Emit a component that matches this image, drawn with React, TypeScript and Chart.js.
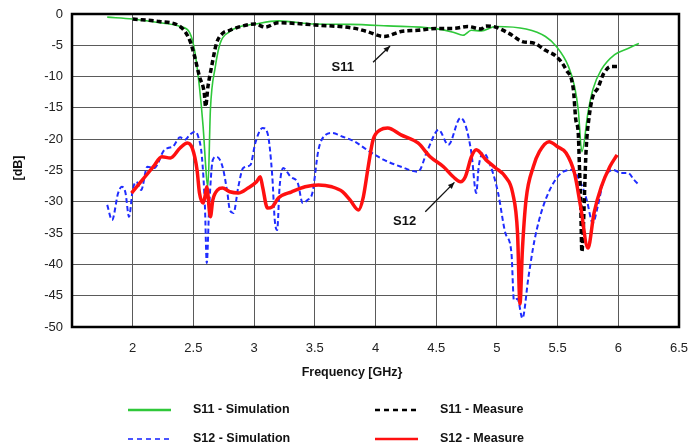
import React, { useEffect, useRef } from "react";
import { Chart, registerables } from "chart.js";

Chart.register(...registerables);

// Frequency axis ticks (GHz) and level axis ticks (dB)
const freqTicks = [1.5, 2, 2.5, 3, 3.5, 4, 4.5, 5, 5.5, 6, 6.5];
const dbTicks = [0, -5, -10, -15, -20, -25, -30, -35, -40, -45, -50];

// S11 - Simulation
const s11SimFreq = [1.79, 2.0, 2.22, 2.39, 2.47, 2.51, 2.55, 2.58, 2.61, 2.62, 2.64, 2.68, 2.72, 2.80, 2.84, 3.01, 3.20, 3.50, 3.79, 4.10, 4.48, 4.64, 4.72, 4.79, 4.87, 4.99, 5.24, 5.40, 5.49, 5.59, 5.64, 5.67, 5.70, 5.75, 5.79, 5.86, 5.97, 6.08, 6.17];
const s11SimDb = [-0.5, -0.8, -1.4, -2.0, -3.0, -5.8, -11.7, -18, -26.5, -27.5, -15.3, -8.5, -4.7, -2.8, -2.3, -1.6, -1.1, -1.6, -1.65, -1.9, -2.3, -2.9, -3.4, -2.6, -2.7, -2.0, -2.4, -3.6, -5.2, -8.4, -11.6, -15.3, -22, -15.8, -12.1, -8.9, -6.5, -5.5, -4.7];

// S11 - Measure
const s11MeasFreq = [2.0, 2.22, 2.39, 2.47, 2.51, 2.55, 2.59, 2.60, 2.62, 2.65, 2.69, 2.74, 2.80, 2.87, 3.01, 3.09, 3.20, 3.50, 3.83, 3.93, 4.07, 4.21, 4.35, 4.51, 4.64, 4.76, 4.87, 4.91, 4.99, 5.10, 5.21, 5.31, 5.40, 5.49, 5.57, 5.63, 5.65, 5.67, 5.68, 5.69, 5.70, 5.71, 5.735, 5.76, 5.79, 5.83, 5.88, 5.94, 5.99];
const s11MeasDb = [-0.8, -1.2, -2.0, -4.2, -6.8, -10, -12.7, -14.8, -11.6, -8.4, -4.7, -3.1, -2.6, -2.1, -1.6, -2.1, -1.4, -1.75, -2.3, -2.8, -3.6, -2.8, -2.6, -2.3, -2.3, -2.0, -2.4, -1.9, -2.1, -3.1, -4.4, -4.7, -5.8, -6.8, -8.9, -12.1, -16.9, -19, -24.4, -30, -38, -35, -21.7, -16.4, -13.2, -11.9, -9.5, -8.4, -8.4];

// S12 - Simulation
const s12SimFreq = [1.79, 1.83, 1.88, 1.91, 1.94, 1.97, 2.0, 2.03, 2.07, 2.12, 2.18, 2.21, 2.25, 2.29, 2.33, 2.39, 2.43, 2.47, 2.51, 2.54, 2.57, 2.595, 2.61, 2.63, 2.66, 2.69, 2.74, 2.78, 2.80, 2.83, 2.87, 2.91, 2.97, 3.01, 3.07, 3.11, 3.15, 3.17, 3.19, 3.21, 3.24, 3.30, 3.36, 3.40, 3.44, 3.48, 3.53, 3.59, 3.64, 3.73, 3.83, 3.93, 4.07, 4.21, 4.35, 4.43, 4.52, 4.60, 4.70, 4.74, 4.79, 4.83, 4.85, 4.89, 4.95, 5.01, 5.07, 5.12, 5.14, 5.17, 5.21, 5.26, 5.31, 5.38, 5.50, 5.61, 5.68, 5.74, 5.79, 5.83, 5.88, 5.96, 6.02, 6.08, 6.13, 6.17];
const s12SimDb = [-30.5, -32.9, -28.6, -27.6, -28.5, -32.4, -28.1, -26.8, -28.1, -24.4, -24.6, -23.8, -22, -21.4, -21.2, -19.7, -20.1, -19.3, -18.8, -19.6, -22.8, -30.8, -39.8, -30.8, -23.3, -22.8, -24.4, -28.6, -31.3, -31.8, -27.6, -24.6, -24.1, -20.6, -18.2, -19, -26, -32.9, -34.5, -27.6, -24.6, -26, -27, -30.2, -29.7, -28.6, -21.7, -19.3, -19, -19.6, -20.4, -21.7, -23.3, -24.4, -25.2, -21.7, -18.5, -20.9, -16.6, -17.7, -22.2, -28.6, -24.4, -22.2, -24.4, -28.6, -35, -38.2, -45.7, -45.5, -48.6, -42, -36.1, -30.8, -26, -24.9, -26.5, -29.7, -33.4, -30.8, -26.5, -24.9, -25.4, -25.4, -26.5, -27.3];

// S12 - Measure
const s12MeasFreq = [1.99, 2.08, 2.17, 2.24, 2.31, 2.39, 2.45, 2.49, 2.53, 2.55, 2.58, 2.595, 2.61, 2.64, 2.66, 2.70, 2.74, 2.80, 2.87, 2.95, 3.02, 3.05, 3.07, 3.11, 3.15, 3.20, 3.31, 3.42, 3.53, 3.64, 3.73, 3.79, 3.86, 3.90, 3.94, 3.98, 4.04, 4.10, 4.21, 4.35, 4.45, 4.56, 4.64, 4.70, 4.74, 4.79, 4.83, 4.91, 4.99, 5.07, 5.13, 5.17, 5.19, 5.21, 5.24, 5.30, 5.35, 5.43, 5.50, 5.57, 5.64, 5.69, 5.75, 5.80, 5.86, 5.93, 5.99];
const s12MeasDb = [-28.6, -26.5, -24.4, -22.8, -23, -21.4, -20.6, -21.4, -24.9, -28.6, -30.2, -29.2, -27.6, -32.4, -29.7, -28.1, -27.8, -28.4, -28.6, -27.8, -26.8, -26, -27.6, -31, -30.8, -29.4, -28.4, -27.6, -27.3, -27.6, -28.4, -29.7, -31.3, -29.2, -24.4, -20.1, -18.5, -18.2, -19.3, -20.6, -22.8, -24.4, -26, -26.8, -26, -22.8, -21.7, -23.3, -24.6, -26, -28.6, -35, -46.3, -37.7, -29.7, -24.4, -22, -20.4, -21.2, -22.2, -25.5, -30.8, -37.4, -31.8, -27.6, -24.4, -22.5];

const seriesNames = ["S11 - Simulation", "S11 - Measure", "S12 - Simulation", "S12 - Measure"];

const GREEN = "#2fc83a";
const BLACK = "#000000";
const BLUE = "#1f2cff";
const RED = "#ff1010";
const FONT = "'Liberation Sans', Arial, sans-serif";

const pts = (xs: number[], ys: number[]) => xs.map((x, i) => ({ x, y: ys[i] }));

// Frame, axis titles, callouts and the two-column legend
const decorations = {
  id: "decorations",
  afterDraw(chart: any) {
    const { ctx, chartArea: a, scales } = chart;
    const xs = scales.x;
    const ys = scales.y;
    ctx.save();
    // heavy plot frame
    ctx.strokeStyle = "#000";
    ctx.lineWidth = 2.5;
    ctx.strokeRect(a.left, a.top, a.right - a.left, a.bottom - a.top);

    ctx.fillStyle = "#111";
    ctx.font = `bold 12.5px ${FONT}`;
    ctx.textAlign = "center";
    ctx.textBaseline = "middle";
    ctx.fillText("Frequency [GHz}", 352, 373);
    ctx.save();
    ctx.translate(19, 168);
    ctx.rotate(-Math.PI / 2);
    ctx.fillText("[dB]", 0, 0);
    ctx.restore();

    // callouts, anchored in data units
    const callout = (label: string, lx: number, ly: number, fx: number, fy: number, tx: number, ty: number) => {
      ctx.font = `bold 13px ${FONT}`;
      ctx.textAlign = "center";
      ctx.fillStyle = "#111";
      ctx.fillText(label, xs.getPixelForValue(lx), ys.getPixelForValue(ly));
      const x0 = xs.getPixelForValue(fx), y0 = ys.getPixelForValue(fy);
      const x1 = xs.getPixelForValue(tx), y1 = ys.getPixelForValue(ty);
      ctx.strokeStyle = "#111";
      ctx.lineWidth = 1.3;
      ctx.beginPath();
      ctx.moveTo(x0, y0);
      ctx.lineTo(x1, y1);
      ctx.stroke();
      const ang = Math.atan2(y1 - y0, x1 - x0);
      ctx.beginPath();
      ctx.moveTo(x1, y1);
      ctx.lineTo(x1 - 7 * Math.cos(ang - 0.4), y1 - 7 * Math.sin(ang - 0.4));
      ctx.lineTo(x1 - 7 * Math.cos(ang + 0.4), y1 - 7 * Math.sin(ang + 0.4));
      ctx.closePath();
      ctx.fill();
    };
    callout("S11", 3.73, -8.5, 3.98, -7.7, 4.12, -5.1);
    callout("S12", 4.24, -33.1, 4.41, -31.6, 4.65, -26.9);

    // legend
    const entries = [
      { name: seriesNames[0], color: GREEN, dash: [] as number[], w: 2.5, x: 128, y: 410 },
      { name: seriesNames[1], color: BLACK, dash: [5, 4], w: 2.5, x: 375, y: 410 },
      { name: seriesNames[2], color: "#4a55ff", dash: [5, 4], w: 2, x: 128, y: 439 },
      { name: seriesNames[3], color: RED, dash: [] as number[], w: 2.5, x: 375, y: 439 },
    ];
    ctx.font = `bold 12.5px ${FONT}`;
    ctx.textAlign = "left";
    for (const e of entries) {
      ctx.strokeStyle = e.color;
      ctx.lineWidth = e.w;
      ctx.setLineDash(e.dash);
      ctx.beginPath();
      ctx.moveTo(e.x, e.y);
      ctx.lineTo(e.x + 43, e.y);
      ctx.stroke();
      ctx.setLineDash([]);
      ctx.fillStyle = "#111";
      ctx.fillText(e.name, e.x + 65, e.y);
    }
    ctx.restore();
  },
};

export default function App() {
  const ref = useRef<HTMLCanvasElement | null>(null);

  useEffect(() => {
    if (!ref.current) return;
    const chart = new Chart(ref.current, {
      type: "line",
      data: {
        datasets: [
          {
            label: seriesNames[3],
            data: pts(s12MeasFreq, s12MeasDb),
            borderColor: RED,
            borderWidth: 3.5,
            order: 1,
          },
          {
            label: seriesNames[1],
            data: pts(s11MeasFreq, s11MeasDb),
            borderColor: BLACK,
            borderWidth: 3.5,
            borderDash: [5, 3],
            order: 2,
          },
          {
            label: seriesNames[0],
            data: pts(s11SimFreq, s11SimDb),
            borderColor: GREEN,
            borderWidth: 1.6,
            order: 3,
          },
          {
            label: seriesNames[2],
            data: pts(s12SimFreq, s12SimDb),
            borderColor: BLUE,
            borderWidth: 2,
            borderDash: [5, 3],
            order: 4,
          },
        ].map((d) => ({ ...d, pointRadius: 0, fill: false, cubicInterpolationMode: "monotone" as const })),
      },
      options: {
        responsive: false,
        animation: false,
        layout: { padding: { top: 14, right: 0, left: 0, bottom: 0 } },
        plugins: { legend: { display: false }, tooltip: { enabled: false } },
        scales: {
          x: {
            type: "linear",
            min: 1.5,
            max: 6.5,
            afterBuildTicks: (s: any) => {
              s.ticks = freqTicks.map((v) => ({ value: v }));
            },
            afterFit: (s: any) => {
              s.height = 121;
              s.paddingLeft = 0;
              s.paddingRight = 10;
            },
            grid: { color: "#5a5a5a", lineWidth: 1, drawTicks: false },
            border: { display: false },
            ticks: {
              padding: 14,
              color: "#222",
              font: { family: FONT, size: 13 },
              callback: (v: any) => (v === 1.5 ? "" : String(v)),
            },
          },
          y: {
            type: "linear",
            min: -50,
            max: 0,
            afterBuildTicks: (s: any) => {
              s.ticks = dbTicks.map((v) => ({ value: v }));
            },
            afterFit: (s: any) => {
              s.width = 72;
              s.paddingTop = 0;
              s.paddingBottom = 0;
            },
            grid: { color: "#5a5a5a", lineWidth: 1, drawTicks: false },
            border: { display: false },
            ticks: {
              padding: 9,
              color: "#222",
              font: { family: FONT, size: 13 },
              callback: (v: any) => String(v),
            },
          },
        },
      },
      plugins: [decorations],
    });
    return () => chart.destroy();
  }, []);

  return (
    <div style={{ position: "fixed", left: 0, top: 0, width: 689, height: 448, background: "#fff" }}>
      <canvas ref={ref} width={689} height={448} />
    </div>
  );
}
